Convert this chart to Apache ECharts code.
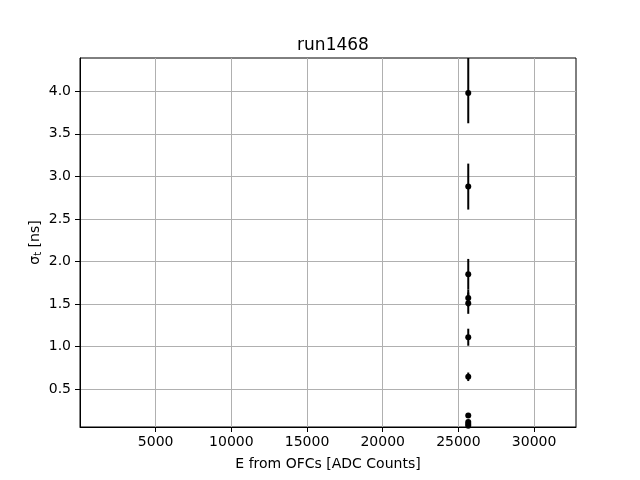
<!DOCTYPE html>
<html>
<head>
<meta charset="utf-8">
<script src="https://cdn.jsdelivr.net/npm/echarts@6/dist/echarts.min.js"></script>
<style>html,body{margin:0;padding:0;background:#fff}#c{width:640px;height:480px}</style>
</head>
<body>
<div id="c"></div>
<script>
const titleText = 'run1468';
const xName = 'E from OFCs [ADC Counts]';
const xTicks = [5000, 10000, 15000, 20000, 25000, 30000];
const yTicks = [0.5, 1.0, 1.5, 2.0, 2.5, 3.0, 3.5, 4.0];
const xVals = [25650, 25650, 25650, 25650, 25650, 25650, 25650, 25650, 25650, 25650, 25650];
const yVals = [3.98, 2.88, 1.85, 1.57, 1.51, 1.11, 0.645, 0.19, 0.115, 0.09, 0.07];
const yErrLow = [0.356, 0.27, 0.18, 0.10, 0.125, 0.10, 0.05, 0.01, 0.01, 0.01, 0.01];
const yErrHigh = [0.42, 0.27, 0.18, 0.10, 0.125, 0.10, 0.05, 0.01, 0.01, 0.01, 0.01];
const xMin = 0, xMax = 32768;
const yMin = 0.055, yMax = 4.391;

const pts = xVals.map((x, i) => [x, yVals[i]]);
const errs = xVals.map((x, i) => [x, yVals[i] - yErrLow[i], yVals[i] + yErrHigh[i]]);
const font = 'DejaVu Sans';
const chart = echarts.init(document.getElementById('c'));
chart.setOption({
  animation: false,
  backgroundColor: '#fff',
  title: {text: titleText, left: 328, top: 32, textAlign: 'center',
    textStyle: {fontFamily: font, fontSize: 17, fontWeight: 'normal', color: '#000'}},
  grid: {left: 80, right: 64, top: 58, bottom: 53, show: true, borderColor: '#000', borderWidth: 1, containLabel: false},
  xAxis: {
    type: 'value', min: xMin, max: xMax,
    name: xName, nameLocation: 'middle', nameGap: 30, nameMoveOverlap: false,
    nameTextStyle: {fontFamily: font, fontSize: 14, color: '#000'},
    axisLine: {show: true, lineStyle: {color: '#000', width: 1}},
    axisTick: {show: true, length: 5, lineStyle: {color: '#000'}, customValues: xTicks},
    axisLabel: {fontFamily: font, fontSize: 14, color: '#000', margin: 8, customValues: xTicks,
      formatter: v => String(v)},
    splitLine: {show: true, lineStyle: {color: '#b0b0b0', width: 1}}
  },
  yAxis: {
    type: 'value', min: yMin, max: yMax, splitNumber: 8,
    name: '{a|σ}{s|t} [ns]', nameLocation: 'middle', nameGap: 37, nameRotate: 90, nameMoveOverlap: false,
    nameTextStyle: {fontFamily: font, fontSize: 14, color: '#000',
      rich: {a: {fontFamily: font, fontSize: 14, color: '#000'}, s: {fontFamily: font, fontSize: 10, color: '#000', padding: [6, 0, 0, 0]}}},
    axisLine: {show: true, lineStyle: {color: '#000', width: 1}},
    axisTick: {show: true, length: 5, lineStyle: {color: '#000'}, customValues: yTicks},
    axisLabel: {fontFamily: font, fontSize: 14, color: '#000', margin: 9, customValues: yTicks,
      formatter: v => v.toFixed(1)},
    splitLine: {show: true, lineStyle: {color: '#b0b0b0', width: 1}}
  },
  series: [
    {
      type: 'custom', clip: true, data: errs,
      renderItem: (params, api) => {
        const lo = api.coord([api.value(0), api.value(1)]);
        const hi = api.coord([api.value(0), api.value(2)]);
        return {type: 'line', shape: {x1: lo[0], y1: lo[1], x2: hi[0], y2: hi[1]},
          style: {stroke: '#000', lineWidth: 2}};
      },
      encode: {x: 0, y: [1, 2]}, z: 2
    },
    {
      type: 'scatter', data: pts, symbol: 'circle', symbolSize: 6, clip: true,
      itemStyle: {color: '#000', opacity: 1}, z: 3
    }
  ]
});
</script>
</body>
</html>
